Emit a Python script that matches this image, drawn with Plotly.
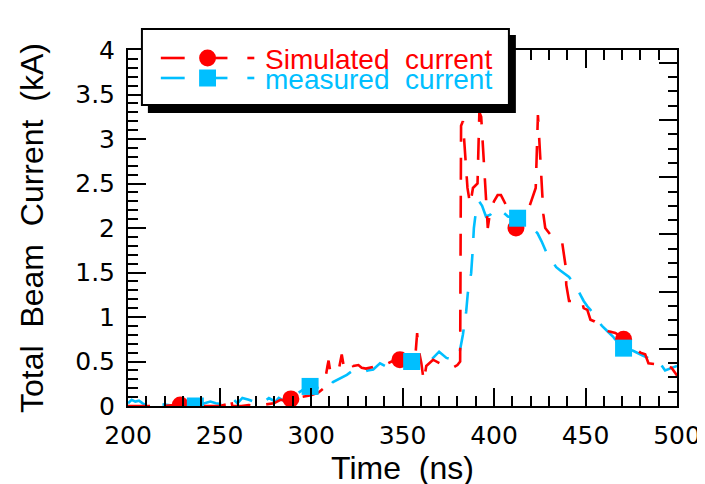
import plotly.graph_objects as go

sim_t = [200, 210, 220, 225, 229, 235, 240, 245, 250, 254, 256, 257, 262, 266, 270,
         272.5, 276, 279.7, 283.3, 286, 289, 292, 296, 300, 304, 307, 309, 309.6,
         310.5, 313, 315, 316.8, 317.8, 320, 321.4, 323, 325.9, 327.7, 330, 334,
         338, 341, 344, 348.6, 352, 355, 357, 358, 358.5, 360.3, 361.6, 363, 366.7,
         370.2, 373, 377.5, 380, 381.5, 382, 383, 384, 384.5, 385.5, 387, 388.5,
         390, 391, 392, 393, 394, 395, 396.6, 398, 400, 402, 403.8, 406.5, 409, 412,
         415, 417, 419, 421, 422.8, 424, 424.6, 425, 425.5, 426.3, 427, 428, 431,
         432.8, 435.5, 437.3, 439, 439.5, 441, 443.6, 446, 448, 449, 451, 452.7,
         455, 457, 460, 462.6, 466.3, 470.8, 474, 478, 480, 482.6, 484.4, 488, 492,
         495, 497, 499.8, 500]
sim_i = [0.0, 0.0, 0.0, 0.01, 0.01, 0.0, 0.0, 0.0, 0.0, 0.02, 0.11, 0.0, 0.0, 0.01, 0.0,
         0.01, 0.02, 0.03, 0.07, 0.06, 0.08, 0.09, 0.10, 0.12, 0.15, 0.20, 0.45, 0.51,
         0.39, 0.41, 0.39, 0.58, 0.46, 0.48, 0.52, 0.45, 0.46, 0.43, 0.42, 0.44,
         0.45, 0.47, 0.50, 0.52, 0.50, 0.48, 0.55, 0.82, 0.67, 0.48, 0.28, 0.45, 0.52,
         0.48, 0.45, 0.43, 0.46, 0.50, 3.15, 3.20, 2.90, 2.70, 2.45, 2.26, 2.45,
         2.48, 2.50, 3.30, 3.25, 2.90, 2.50, 2.00, 2.20, 2.30, 2.37, 2.37, 2.26, 2.10, 2.00,
         2.05, 2.10, 2.22, 2.36, 2.45, 3.27, 3.05, 2.90, 2.64, 2.41, 2.15, 2.00, 1.92,
         1.89, 1.87, 1.83, 1.59, 1.36, 1.18, 1.18, 1.20, 1.18, 1.10, 1.08, 0.97,
         0.95, 0.92, 0.88, 0.84, 0.82, 0.76, 0.70, 0.63, 0.60, 0.58, 0.48, 0.47, 0.45,
         0.44, 0.43, 0.35, 0.35]

meas_t = [200, 202, 204, 206, 208, 210, 214, 218, 222, 226, 230, 234, 237, 240, 242,
          245, 248, 252, 255, 257, 259.8, 262.5, 266, 270, 273.4, 277, 280.6, 282.4,
          285, 288, 291, 294, 297, 299.5, 303, 307, 310, 312, 315, 317.8, 319.6, 322.3,
          325, 328, 331, 334, 337.7, 340.4, 343, 346, 349, 352, 355, 357, 359.4, 363,
          365.8, 368, 370, 374, 377.5, 380, 381, 383, 384.8, 385.7, 387.5, 388.4, 389,
          390.2, 391.8, 393.5, 395.6, 398, 400, 403.8, 407.6, 410, 412.9, 416, 419,
          421, 423.8, 426, 429.2, 432, 434, 436.4, 439, 441, 444.6, 447, 449, 451,
          452.7, 455.4, 459, 462, 465, 468, 470.8, 473, 476, 481, 484, 487, 490.8,
          493.5, 496, 499, 500]
meas_i = [0.03, 0.07, 0.05, 0.06, 0.03, 0.01, 0.0, 0.02, 0.01, 0.0, 0.01, 0.0, 0.0, 0.02, 0.03,
          0.05, 0.03, 0.02, 0.05, 0.09, 0.03, 0.09, 0.07, 0.04, 0.03, 0.09, 0.05, 0.09,
          0.06, 0.08, 0.12, 0.16, 0.20, 0.22, 0.20, 0.24, 0.22, 0.27, 0.30, 0.33, 0.35, 0.39,
          0.37, 0.38, 0.40, 0.41, 0.48, 0.45, 0.43, 0.47, 0.50, 0.48, 0.50, 0.52, 0.56, 0.50,
          0.52, 0.57, 0.61, 0.54, 0.52, 0.56, 0.58, 0.80, 1.06, 1.27, 1.49, 1.76, 2.00,
          2.20, 2.30, 2.25, 2.13, 2.15, 2.20, 2.20, 2.13, 2.12, 2.11, 2.08, 2.05,
          2.00, 1.94, 1.85, 1.70, 1.62, 1.56, 1.52, 1.48, 1.45, 1.35, 1.25, 1.18, 1.12,
          1.08, 0.99, 0.90, 0.84, 0.78, 0.70, 0.65, 0.64, 0.62, 0.57, 0.54, 0.50, 0.48,
          0.40, 0.42, 0.45, 0.45]

sim_mark_t = [228.6, 289, 348.6, 412, 470.8]
sim_mark_i = [0.01, 0.08, 0.52, 2.00, 0.75]
meas_mark_t = [236.8, 299.5, 355, 412.9, 470.8]
meas_mark_i = [0.00, 0.22, 0.50, 2.11, 0.65]

x_tick_vals = [200, 250, 300, 350, 400, 450, 500]
y_tick_vals = [0, 0.5, 1, 1.5, 2, 2.5, 3, 3.5, 4]
y_tick_text = ["0", "0.5", "1", "1.5", "2", "2.5", "3", "3.5", "4"]
series_names = ["Simulated  current", "measured  current"]

RED = "#FF0000"
CYAN = "#00BFFF"
FONT = "Liberation Sans, Arial, sans-serif"
TICKFONT = "DejaVu Sans, sans-serif"
W, H = 705, 484
PL, PR, PT, PB = 120, 672, 42, 398
DASH = "22px,16px"
Y2_TOP = (PB - PT) / 57.2


def px(x):
    return (x - PL) / (PR - PL)


def py(y):
    return (PB - y) / (PB - PT)


fig = go.Figure()
fig.add_trace(go.Scatter(x=meas_t, y=meas_i, mode="lines", name=series_names[1],
                         line=dict(color=CYAN, width=2.6, dash=DASH), showlegend=False))
fig.add_trace(go.Scatter(x=sim_t, y=sim_i, mode="lines", name=series_names[0],
                         line=dict(color=RED, width=2.6, dash=DASH), showlegend=False))
fig.add_trace(go.Scatter(x=sim_mark_t, y=sim_mark_i, mode="markers", name=series_names[0],
                         marker=dict(symbol="circle", size=17, color=RED), showlegend=False))
fig.add_trace(go.Scatter(x=meas_mark_t, y=meas_mark_i, mode="markers", name=series_names[1],
                         marker=dict(symbol="square", size=17, color=CYAN), showlegend=False))
# empty carrier so the right-hand secondary tick scale is drawn
fig.add_trace(go.Scatter(x=[None], y=[None], yaxis="y2", mode="lines",
                         showlegend=False, hoverinfo="skip"))

axis_font = dict(family=TICKFONT, size=25, color="black")
fig.update_layout(
    width=W, height=H,
    margin=dict(l=PL, r=W - PR, t=PT, b=H - PB),
    paper_bgcolor="white", plot_bgcolor="white",
    showlegend=False,
    xaxis=dict(
        range=[200, 500], tickmode="array", tickvals=x_tick_vals,
        ticks="inside", ticklen=18, tickwidth=2, tickcolor="black",
        minor=dict(dtick=10, tick0=200, ticks="inside", ticklen=10, tickwidth=2, tickcolor="black"),
        showline=True, linewidth=2, linecolor="black", mirror="ticks",
        showgrid=False, zeroline=False, tickfont=axis_font, ticklabelstandoff=6,
        title=dict(text="Time  (ns)", font=dict(family=FONT, size=32, color="black"), standoff=0),
    ),
    yaxis=dict(
        range=[0, 4], tickmode="array", tickvals=y_tick_vals, ticktext=y_tick_text,
        ticks="inside", ticklen=18, tickwidth=2, tickcolor="black",
        minor=dict(dtick=0.1, tick0=0, ticks="inside", ticklen=10, tickwidth=2, tickcolor="black"),
        showline=True, linewidth=2, linecolor="black", mirror=True,
        showgrid=False, zeroline=False, tickfont=axis_font, ticklabelstandoff=6,
        title=dict(text="Total  Beam  Current  (kA)", font=dict(family=FONT, size=32, color="black"),
                   standoff=22),
    ),
    yaxis2=dict(
        overlaying="y", side="right", anchor="x", range=[0, Y2_TOP],
        tickmode="linear", tick0=0, dtick=1,
        ticks="inside", ticklen=18, tickwidth=2, tickcolor="black",
        minor=dict(dtick=0.25, ticks="inside", ticklen=9, tickwidth=2, tickcolor="black"),
        showticklabels=False, showgrid=False, zeroline=False, showline=False,
    ),
)

# ---------------- legend box with drop shadow ----------------
shapes = []
shapes.append(dict(type="rect", xref="paper", yref="paper", layer="above",
                   x0=px(140), x1=px(510), y0=py(105), y1=py(27),
                   fillcolor="black", line=dict(width=0)))
shapes.append(dict(type="rect", xref="paper", yref="paper", layer="above",
                   x0=px(134), x1=px(503), y0=py(97), y1=py(21),
                   fillcolor="white", line=dict(color="black", width=2)))
for color, yy, sym in [(RED, 50, "circle"), (CYAN, 70, "square")]:
    for a, b in [(153, 177), (200, 220), (240, 247)]:
        shapes.append(dict(type="line", xref="paper", yref="paper", layer="above",
                           x0=px(a), x1=px(b), y0=py(yy), y1=py(yy),
                           line=dict(color=color, width=2.6)))
    r = 8.5
    shapes.append(dict(type=("circle" if sym == "circle" else "rect"),
                       xref="paper", yref="paper", layer="above",
                       x0=px(200 - r), x1=px(200 + r), y0=py(yy + r), y1=py(yy - r),
                       fillcolor=color, line=dict(width=0)))
fig.update_layout(shapes=shapes)

for name, color, yy in [(series_names[0], RED, 51.5), (series_names[1], CYAN, 71)]:
    fig.add_annotation(xref="paper", yref="paper", x=px(256), y=py(yy),
                       xanchor="left", yanchor="middle", showarrow=False,
                       text=name, font=dict(family=FONT, size=28, color=color))

fig.write_html("out.html")
